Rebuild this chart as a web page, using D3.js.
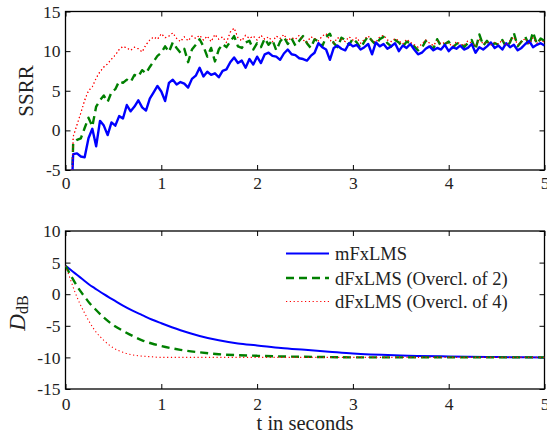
<!DOCTYPE html>
<html lang="en">
<head>
    <meta charset="UTF-8">
    <title>SSRR and D_dB</title>
    <script src="https://cdn.jsdelivr.net/npm/d3@7"></script>
    <style>
        body { margin: 0; background: #fff; }
    </style>
</head>
<body>
    <script>
        // top plot: SSRR, first sample at t=0.07 then every 0.04 s from 0.08
        var ssrrMf = [-6,
            -3.0, -2.9, -3.3, -3.4, -1.0, 0.2, -2.0, 1.2, 0.6, -0.6,
            1.0, 0.6, 1.8, 1.5, 3.2, 2.4, 3.0, 3.8, 2.9, 2.5,
            4.0, 4.8, 5.6, 4.9, 3.7, 6.0, 6.4, 5.8, 6.1, 5.9,
            5.4, 6.5, 6.9, 7.9, 6.8, 7.4, 7.0, 7.2, 6.7, 7.5,
            7.7, 8.6, 9.2, 8.5, 8.8, 7.9, 9.0, 8.3, 9.3, 8.5,
            9.6, 9.8, 9.4, 9.3, 8.9, 9.7, 10.2, 9.6, 9.5, 9.1,
            9.0, 8.8, 9.4, 9.8, 11.0, 10.5, 10.2, 8.9, 10.4, 10.7,
            10.3, 10.1, 11.0, 10.6, 10.8, 10.2, 10.5, 10.9, 9.6, 11.1,
            10.6, 10.9, 10.3, 10.6, 11.0, 10.0, 10.7, 10.4, 10.9, 10.2,
            9.6, 9.8, 10.3, 10.6, 10.1, 10.4, 10.2, 10.8, 10.0, 10.5,
            10.3, 10.7, 10.2, 10.4, 10.9, 9.8, 10.5, 10.2, 10.6, 11.1,
            10.4, 10.7, 10.2, 11.0, 10.5, 10.8, 10.1, 10.4, 10.9, 11.3,
            10.5, 10.8, 11.0, 10.7];
        var ssrrD2 = [-6,
            -1.6, -1.2, -1.0, 0.3, 1.6, 0.5, 3.0, 3.8, 4.4, 3.6,
            4.8, 5.2, 6.2, 6.0, 6.4, 6.1, 7.0, 6.8, 7.6, 7.2,
            8.0, 8.7, 9.4, 9.8, 10.6, 9.9, 11.1, 10.4, 9.8, 10.3,
            8.6, 10.2, 10.8, 11.5, 10.6, 9.3, 10.4, 8.7, 10.2, 10.9,
            10.5, 11.2, 11.9, 10.6, 10.4, 11.1, 11.3, 10.2, 11.0, 10.5,
            11.6, 10.8, 11.4, 10.1, 11.2, 11.8, 10.9, 11.6, 10.7, 11.3,
            11.9, 11.0, 10.4, 11.5, 11.2, 10.6, 11.8, 12.2, 11.0, 10.5,
            11.7, 11.4, 10.8, 11.6, 11.1, 10.4, 11.2, 11.9, 11.3, 10.8,
            11.5, 11.8, 11.0, 10.6, 11.4, 11.1, 10.5, 11.2, 11.0, 10.6,
            10.1, 10.4, 11.3, 10.7, 10.3, 11.5, 10.6, 10.9, 11.2, 10.4,
            10.9, 11.1, 10.5, 11.0, 11.4, 10.2, 12.1, 10.7, 11.3, 10.6,
            11.0, 10.8, 11.4, 10.5, 11.1, 12.3, 10.6, 11.2, 11.8, 10.7,
            12.4, 10.9, 11.6, 11.3];
        var ssrrD4 = [-6,
            -0.8, 0.7, 2.2, 3.8, 5.0, 5.5, 6.6, 7.4, 8.0, 8.4,
            9.0, 9.5, 10.2, 10.6, 10.4, 10.1, 10.5, 10.3, 9.9, 10.8,
            11.4, 11.8, 11.5, 12.2, 11.7, 11.9, 12.3, 11.6, 11.2, 11.8,
            11.3, 11.9, 11.6, 12.0, 11.4, 11.9, 11.2, 12.1, 11.5, 11.8,
            11.1, 12.4, 12.9, 11.7, 11.3, 12.0, 11.6, 11.9, 11.4, 12.0,
            11.5, 11.8, 11.2, 11.9, 11.6, 12.1, 11.3, 11.7, 11.5, 12.0,
            11.4, 11.1, 11.8, 11.6, 11.3, 11.9, 12.2, 11.4, 11.0, 11.7,
            11.5, 11.2, 11.8, 11.4, 11.7, 11.0, 11.5, 11.9, 11.3, 11.1,
            11.8, 12.0, 11.4, 11.2, 11.6, 11.3, 10.9, 11.5, 11.1, 10.8,
            10.5, 10.9, 11.4, 11.0, 10.7, 11.3, 10.9, 11.1, 11.0, 10.6,
            11.2, 10.9, 10.7, 11.3, 11.0, 10.6, 11.5, 10.9, 11.2, 10.8,
            11.1, 10.9, 11.4, 10.7, 11.3, 11.8, 10.8, 11.2, 11.6, 10.9,
            11.7, 11.0, 11.4, 11.1];

        // bottom plot: D_dB
        var tBot = [0, 0.05, 0.1, 0.15, 0.2, 0.25, 0.3, 0.4, 0.5, 0.6, 0.7, 0.8, 0.9, 1.0,
            1.2, 1.4, 1.6, 1.8, 2.0, 2.25, 2.5, 2.75, 3.0, 3.5, 4.0, 4.5, 5.0];
        var dMf = [4.5, 3.9, 3.3, 2.7, 2.1, 1.5, 1.0, 0.0, -0.9, -1.8, -2.6, -3.3, -4.0, -4.6,
            -5.7, -6.6, -7.3, -7.8, -8.1, -8.5, -8.8, -9.1, -9.4, -9.7, -9.85, -9.95, -10.0];
        var dD2 = [4.5, 3.1, 1.8, 0.6, -0.4, -1.4, -2.2, -3.7, -4.9, -5.8, -6.6, -7.3, -7.8, -8.2,
            -8.8, -9.2, -9.5, -9.65, -9.75, -9.85, -9.9, -9.95, -10, -10, -10, -10, -10];
        var dD4 = [4.5, 2.4, 0.3, -1.5, -3.0, -4.4, -5.6, -7.3, -8.5, -9.2, -9.6, -9.8, -9.9, -10,
            -10, -10, -10, -10, -10, -10, -10, -10, -10, -10, -10, -10, -10];

        var xTicks = [0, 1, 2, 3, 4, 5];
        var yTopTicks = [-5, 0, 5, 10, 15];
        var yBotTicks = [-15, -10, -5, 0, 5, 10];
        var legendNames = ["mFxLMS", "dFxLMS (Overcl. of 2)", "dFxLMS (Overcl. of 4)"];

        var w = 547, h = 434;
        var left = 65.5, right = 544.5;
        var serif = "'Liberation Serif', monospace";

        var svg = d3.select("body").append("svg")
            .attr("width", w)
            .attr("height", h)
            .attr("font-family", serif);

        var x = d3.scaleLinear().domain([0, 5]).range([left, right]);
        var yTop = d3.scaleLinear().domain([-5, 15]).range([170, 11.5]);
        var yBot = d3.scaleLinear().domain([-15, 10]).range([389, 231]);

        var tTop = [0.07].concat(d3.range(ssrrMf.length - 1).map(function (i) { return 0.08 + 0.04 * i; }));

        var styles = [
            { color: "#0000ff", width: 2.4, dash: null },
            { color: "#008000", width: 2.4, dash: "8,5" },
            { color: "#ff0000", width: 1.1, dash: "1.2,2.6" }
        ];

        function drawPanel(y, yTicks, top, bottom, id) {
            svg.append("clipPath").attr("id", id)
                .append("rect")
                .attr("x", left).attr("y", top)
                .attr("width", right - left).attr("height", bottom - top);

            var fmt = function (d) { return String(d); };
            var axes = svg.append("g");
            axes.append("g")
                .attr("transform", "translate(0," + bottom + ")")
                .call(d3.axisBottom(x).tickValues(xTicks).tickSize(-5).tickPadding(id == "c1" ? 7 : 9).tickFormat(fmt));
            axes.append("g")
                .attr("transform", "translate(0," + top + ")")
                .call(d3.axisTop(x).tickValues(xTicks).tickSize(-5).tickFormat(""));
            axes.append("g")
                .attr("transform", "translate(" + left + ",0)")
                .call(d3.axisLeft(y).tickValues(yTicks).tickSize(-5).tickPadding(5).tickFormat(fmt));
            axes.append("g")
                .attr("transform", "translate(" + right + ",0)")
                .call(d3.axisRight(y).tickValues(yTicks).tickSize(-5).tickFormat(""));

            axes.selectAll("g").attr("font-family", serif).attr("font-size", 17.5);
            axes.selectAll(".domain").remove();
            axes.selectAll(".tick line").attr("stroke", "#000").attr("stroke-width", 1);
            axes.selectAll(".tick text").attr("fill", "#222");

            svg.append("rect")
                .attr("x", left).attr("y", top)
                .attr("width", right - left).attr("height", bottom - top)
                .attr("fill", "none")
                .attr("stroke", "#000")
                .attr("stroke-width", 1.3);

            return svg.append("g").attr("clip-path", "url(#" + id + ")");
        }

        // top
        var g1 = drawPanel(yTop, yTopTicks, 11.5, 170, "c1");
        var lineTop = d3.line()
            .x(function (d, i) { return x(tTop[i]); })
            .y(function (d) { return yTop(d); });

        [ssrrD4, ssrrD2, ssrrMf].forEach(function (s, k) {
            var st = styles[2 - k];
            g1.append("path")
                .attr("d", lineTop(s))
                .attr("fill", "none")
                .attr("stroke", st.color)
                .attr("stroke-width", st.width)
                .attr("stroke-dasharray", st.dash)
                .attr("stroke-linejoin", "round");
        });
        // red drawn again on top, it sits over the others in the picture
        g1.append("path")
            .attr("d", lineTop(ssrrD4))
            .attr("fill", "none")
            .attr("stroke", "#ff0000")
            .attr("stroke-width", 1.1)
            .attr("stroke-dasharray", "1.2,2.6")
            .attr("opacity", 0.8);

        svg.append("text")
            .attr("transform", "translate(33,91) rotate(-90)")
            .attr("text-anchor", "middle")
            .attr("font-size", 21)
            .attr("fill", "#222")
            .text("SSRR");

        // bottom
        var g2 = drawPanel(yBot, yBotTicks, 231, 389, "c2");
        var lineBot = d3.line()
            .x(function (d, i) { return x(tBot[i]); })
            .y(function (d) { return yBot(d); })
            .curve(d3.curveMonotoneX);

        [dMf, dD2, dD4].forEach(function (s, k) {
            var st = styles[k];
            g2.append("path")
                .attr("d", lineBot(s))
                .attr("fill", "none")
                .attr("stroke", st.color)
                .attr("stroke-width", k == 0 ? 2 : st.width)
                .attr("stroke-dasharray", st.dash);
        });

        var lab = svg.append("text")
            .attr("transform", "translate(25,313) rotate(-90)")
            .attr("text-anchor", "middle")
            .attr("fill", "#222");
        lab.append("tspan").attr("font-size", 23).attr("font-style", "italic").text("D");
        lab.append("tspan").attr("font-size", 16).attr("dy", 3).text("dB");

        svg.append("text")
            .attr("x", 305).attr("y", 430)
            .attr("text-anchor", "middle")
            .attr("font-size", 20.5)
            .attr("fill", "#222")
            .text("t in seconds");

        // legend
        var legY = [253.5, 278, 301.5];
        var leg = svg.append("g");
        legendNames.forEach(function (name, i) {
            var st = styles[i];
            leg.append("line")
                .attr("x1", 286).attr("x2", 329)
                .attr("y1", legY[i]).attr("y2", legY[i])
                .attr("stroke", st.color)
                .attr("stroke-width", i == 0 ? 2 : st.width)
                .attr("stroke-dasharray", st.dash);
            leg.append("text")
                .attr("x", 335).attr("y", legY[i] + 6.5)
                .attr("font-size", 18.5)
                .attr("fill", "#222")
                .text(name);
        });
    </script>
</body>
</html>
